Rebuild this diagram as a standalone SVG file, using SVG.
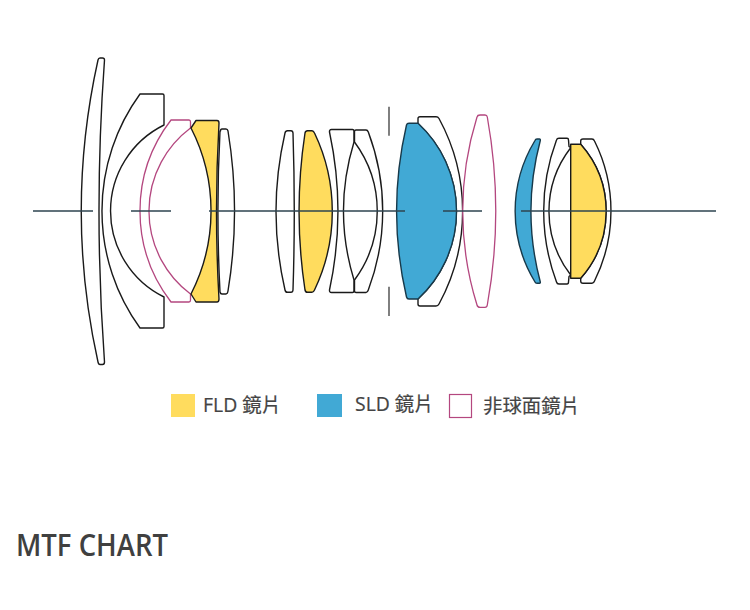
<svg xmlns="http://www.w3.org/2000/svg" width="750" height="610" viewBox="0 0 750 610">
<style>
.l{fill:#fff;stroke:#1a1a1a;stroke-width:1.4;stroke-linejoin:round}
.y{fill:#FFDC5E;stroke:#1a1a1a;stroke-width:1.4;stroke-linejoin:round}
.b{fill:#41A9D5;stroke:#17394a;stroke-width:1.4;stroke-linejoin:round}
.p{fill:#fff;stroke:#B4477F;stroke-width:1.3;stroke-linejoin:round}
.a{stroke:#2E4450;stroke-width:1.3;fill:none}
.s{stroke:#4a4a4a;stroke-width:1.4;fill:none}
.t{font-family:"Open Sans","Noto Sans CJK TC",sans-serif;font-size:19.400px;fill:#444;stroke:#444;stroke-width:.2}
</style>
<rect width="750" height="610" fill="#fff"/>
<g id="lens-1"><path class="l" d="M98 60Q98.500 58 100 58L102.500 58Q104.500 58 104.500 60A2076 2076 0 0 0 104.500 362Q104.500 364.500 102.500 364.500L100 364.500Q98.500 364.500 98 362A697 697 0 0 1 98 60Z"/></g>
<g id="lens-2"><path class="l" d="M140 94L162.500 94Q164 94 164 95.500L164 125A95.900 95.900 0 0 0 164 297L164 326.500Q164 328 162.500 328L140 328A199 199 0 0 1 140 94Z"/></g>
<g id="lens-3-aspheric"><path class="p" d="M171 120L189 120Q190.500 120 190.500 122L190.500 128A103.700 103.700 0 0 0 190.500 294L190.500 300Q190.500 302 189 302L171 302A149 149 0 0 1 171 120Z"/></g>
<g id="lens-4"><path class="l" d="M220.500 131Q220.500 129 222 129L226 129Q227.500 129 228 131A495 495 0 0 1 228 291Q227.500 294 226 294L222 294Q220.500 294 220 292A1550 1550 0 0 1 220 131Z"/></g>
<g id="lens-5-fld"><path class="y" d="M191 128L196 120.500L217 120.500Q219 120.500 219 123A1550 1550 0 0 0 219 299Q219 302 217 302L196 302L191 294A182 182 0 0 0 191 128Z"/></g>
<g id="lens-6"><path class="l" d="M285 133Q285.500 130.700 287.500 130.700L291 130.700Q292.800 130.700 293 133A2400 2400 0 0 1 293 290Q292.800 292.300 291 292.300L287.500 292.300Q285.500 292.300 285 290A351 351 0 0 1 285 133Z"/></g>
<g id="lens-7-fld"><path class="y" d="M305 133Q305.500 130.700 307.500 130.700L312 130.700Q313.500 130.700 314.500 133A182 182 0 0 1 314.500 290Q313.500 292.300 312 292.300L307.500 292.300Q305.500 292.300 305 290A523 523 0 0 1 305 133Z"/></g>
<g id="lens-8"><path class="l" d="M329.500 132Q329.300 129.500 331.500 129.500L352.500 129.500Q354 129.500 354 131.500L354 142A236 236 0 0 0 354 280L354 290.500Q354 292.500 352.500 292.500L331.500 292.500Q329.300 292.500 329.500 290A377 377 0 0 0 329.500 132Z"/></g>
<g id="lens-9"><path class="l" d="M354.500 131.500Q354.500 130 356 130L366 130Q367.500 130 368.300 132A224 224 0 0 1 368.300 290Q367.500 292.500 366 292.500L356 292.500Q354.500 292.500 354.500 291L354.500 280A116 116 0 0 0 354.500 142Z"/></g>
<g id="lens-11"><path class="l" d="M418 118.500Q418 116.700 420 116.700L436 116.700Q438 116.700 439 118.500A194 194 0 0 1 439 304Q438 306 436 306L420 306Q418 306 418 304L418 299A119.400 119.400 0 0 0 418 123.500Z"/></g>
<g id="lens-10-sld"><path class="b" d="M406.500 125Q407 123.300 409 123.300L418 123.300A119.400 119.400 0 0 1 418 299L409 299Q407 299 406.500 297A382 382 0 0 1 406.500 125Z"/></g>
<g id="lens-12-aspheric"><path class="p" d="M477 117Q477.500 115 480 115L485 115Q487 115 487.300 117A530 530 0 0 1 487.300 305Q487 307.300 485 307.300L480 307.300Q477.500 307.300 477 305A316 316 0 0 1 477 117Z"/></g>
<g id="lens-13-sld"><path class="b" d="M535 140.500Q535.500 139 537 139L539.500 139Q540.500 139 540.300 140.500A276 276 0 0 0 540.300 282Q540.500 283.300 539.500 283.300L537 283.300Q535.500 283.300 535 282A136 136 0 0 1 535 140.500Z"/></g>
<g id="lens-14"><path class="l" d="M556.500 140Q557 138.300 559 138.300L567 138.300Q568.500 138.300 568.500 140L569 146.500L570.700 147.700A104 104 0 0 0 570.700 275L569 276.500L568.500 282Q568.500 284 567 284L559 284Q557 284 556.500 282A203 203 0 0 1 556.500 140Z"/></g>
<g id="lens-16"><path class="l" d="M580.700 141Q580.700 139 583 139L592 139Q593.700 139 594.500 141A157 157 0 0 1 594.500 281Q593.700 283.300 592 283.300L583 283.300Q580.700 283.300 580.700 281L580.700 278.300A101 101 0 0 0 580.700 144.300Z"/></g>
<g id="lens-15-fld"><path class="y" d="M570.700 144.300L580.700 144.300A101 101 0 0 1 580.700 278.300L570.700 278.300Z"/></g>
<g id="connectors">
<path class="a" d="M33 211H93M131 211H171M209 211H405M443 211H482M521 211H716"/>
<path class="s" d="M389 106.700V135.700M389 286.700V316"/>
</g>
<g id="legend-fld"><rect x="171" y="394" width="24" height="23" fill="#FFDC5E"/><text class="t" x="203" y="412">FLD 鏡片</text></g>
<g id="legend-sld"><rect x="317" y="394" width="25" height="23" fill="#41A9D5"/><text class="t" x="355" y="411">SLD 鏡片</text></g>
<g id="legend-aspheric"><rect x="449.500" y="394.500" width="22" height="23" fill="#fff" stroke="#B4477F" stroke-width="1.200"/><text class="t" x="483" y="413">非球面鏡片</text></g>
<text x="16" y="556" font-family="Open Sans, Noto Sans, sans-serif" font-size="30" font-weight="600" fill="#404040" textLength="152" lengthAdjust="spacingAndGlyphs">MTF CHART</text>
</svg>
